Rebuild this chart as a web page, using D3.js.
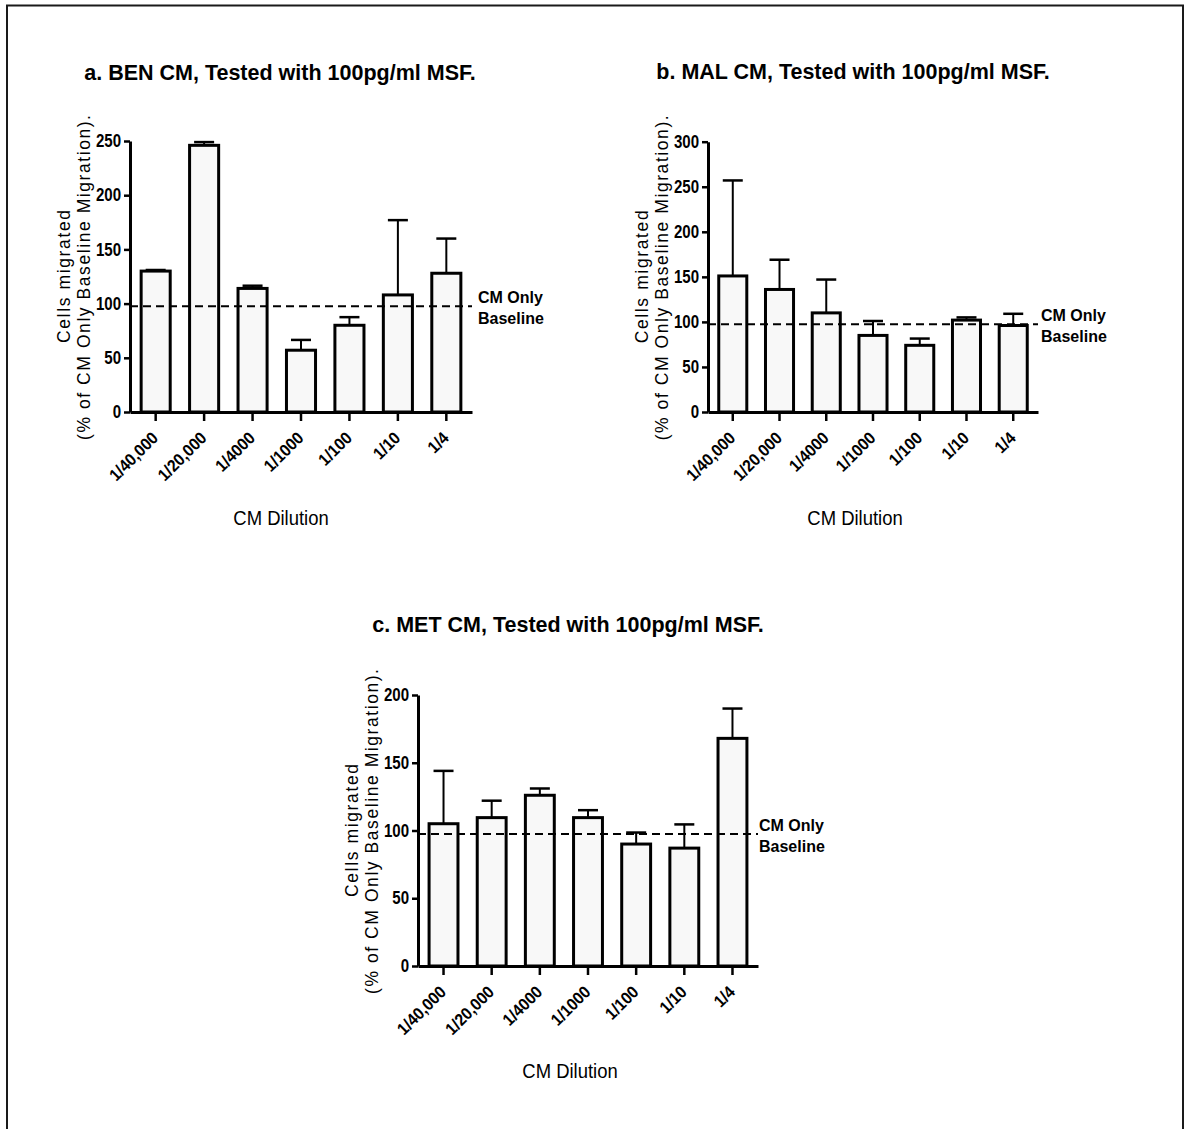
<!DOCTYPE html>
<html>
<head>
<meta charset="utf-8">
<script src="https://cdn.jsdelivr.net/npm/d3@7/dist/d3.min.js"></script>
<style>
  html, body { margin: 0; padding: 0; background: #ffffff; }
  svg { display: block; font-family: "Liberation Sans", Arial, Helvetica, sans-serif; }
</style>
</head>
<body>
<script>
// CM dilutions tested on the x axis
const categories = ["1/40,000", "1/20,000", "1/4000", "1/1000", "1/100", "1/10", "1/4"];

// BEN conditioned medium: mean % migration and upper error (SEM)
const benMeans = [130, 246, 114, 57, 80, 108, 128];
const benErrors = [1, 3, 2.5, 9.5, 7.5, 69, 32];

// MAL conditioned medium
const malMeans = [151, 136, 110, 85, 74, 102, 96];
const malErrors = [106, 33, 37, 16, 7.5, 3, 13];

// MET conditioned medium
const metMeans = [105, 109.5, 126, 109.5, 90, 87, 168];
const metErrors = [39, 12.5, 5, 5.5, 8.5, 17.5, 22];

// CM-only baseline migration level
const baselineValue = 97.5;

// y-axis tick values per panel
const benTicks = [0, 50, 100, 150, 200, 250];
const malTicks = [0, 50, 100, 150, 200, 250, 300];
const metTicks = [0, 50, 100, 150, 200];

const panelTitles = [
  "a. BEN CM, Tested with 100pg/ml MSF.",
  "b. MAL CM, Tested with 100pg/ml MSF.",
  "c. MET CM, Tested with 100pg/ml MSF."
];
const xAxisTitle = "CM Dilution";
const yTitleLine1 = "Cells migrated";
const yTitleLine2 = "(%  of CM Only Baseline Migration).";
const baselineLabel = ["CM Only", "Baseline"];

const W = 1188, H = 1129;
const svg = d3.select("body").append("svg").attr("width", W).attr("height", H);

// outer frame
svg.append("rect")
  .attr("x", 7).attr("y", 5.5).attr("width", 1176).attr("height", H + 20)
  .attr("fill", "none").attr("stroke", "#1a1a1a").attr("stroke-width", 2);

// narrow the glyphs of a text selection horizontally
function squish(sel, factor) {
  sel.each(function () {
    const len = this.getComputedTextLength();
    d3.select(this).attr("textLength", len * factor).attr("lengthAdjust", "spacingAndGlyphs");
  });
}

function drawPanel(p) {
  const g = svg.append("g");

  const x = d3.scaleBand()
    .domain(categories)
    .range([p.x0, p.x1])
    .paddingInner(0.4)
    .paddingOuter(0.23);

  const y = d3.scaleLinear()
    .domain([0, p.yMax])
    .range([p.yBottom, p.yTop]);

  const rows = categories.map((c, i) => ({ c, m: p.means[i], e: p.errors[i] }));

  // panel title
  g.append("text")
    .attr("x", p.titleX).attr("y", p.titleY)
    .attr("text-anchor", "middle")
    .attr("font-weight", "bold")
    .attr("font-size", 21.5)
    .attr("fill", "#000")
    .text(p.title);

  // bars
  g.selectAll("rect.bar").data(rows).join("rect")
    .attr("class", "bar")
    .attr("x", d => x(d.c))
    .attr("width", x.bandwidth())
    .attr("y", d => y(d.m))
    .attr("height", d => y(0) - y(d.m))
    .attr("fill", "#f8f8f8")
    .attr("stroke", "#000")
    .attr("stroke-width", 3);

  // upper error bars
  const cx = d => x(d.c) + x.bandwidth() / 2;
  g.selectAll("line.err").data(rows).join("line")
    .attr("class", "err")
    .attr("x1", cx).attr("x2", cx)
    .attr("y1", d => y(d.m)).attr("y2", d => y(d.m + d.e))
    .attr("stroke", "#000").attr("stroke-width", 2);
  g.selectAll("line.cap").data(rows).join("line")
    .attr("class", "cap")
    .attr("x1", d => cx(d) - 10).attr("x2", d => cx(d) + 10)
    .attr("y1", d => y(d.m + d.e)).attr("y2", d => y(d.m + d.e))
    .attr("stroke", "#000").attr("stroke-width", 2.5);

  // dashed CM-only baseline
  g.append("line")
    .attr("x1", p.x0).attr("x2", p.x1)
    .attr("y1", y(baselineValue)).attr("y2", y(baselineValue))
    .attr("stroke", "#000").attr("stroke-width", 2)
    .attr("stroke-dasharray", "8,5");

  g.selectAll("text.baseline").data(baselineLabel).join("text")
    .attr("class", "baseline")
    .attr("x", p.x1 + p.labelDx)
    .attr("y", (d, i) => y(baselineValue) - 3 + i * 21)
    .attr("font-size", 16)
    .attr("font-weight", "bold")
    .attr("fill", "#000")
    .text(d => d);

  // y axis
  const yAxisG = g.append("g")
    .attr("transform", `translate(${p.x0},0)`)
    .call(d3.axisLeft(y).tickValues(p.ticks).tickSize(6).tickSizeOuter(0).tickPadding(3));
  yAxisG.select(".domain").attr("stroke-width", 3);
  yAxisG.selectAll(".tick line").attr("stroke-width", 2.5);
  yAxisG.selectAll(".tick text")
    .attr("font-size", 17.5)
    .attr("font-weight", "bold")
    .attr("fill", "#000")
    .call(squish, 0.86);

  // x axis with rotated dilution labels
  const xAxisG = g.append("g")
    .attr("transform", `translate(0,${p.yBottom})`)
    .call(d3.axisBottom(x).tickSize(9).tickSizeOuter(0));
  xAxisG.select(".domain").attr("stroke-width", 3);
  xAxisG.selectAll(".tick line").attr("stroke-width", 2.5);
  xAxisG.selectAll(".tick text")
    .attr("x", 0).attr("y", 0).attr("dy", 0)
    .attr("text-anchor", "end")
    .attr("transform", "translate(3.6,27) rotate(-45)")
    .attr("font-size", 17)
    .attr("font-weight", "bold")
    .attr("fill", "#000")
    .call(squish, 0.92);

  // x axis title
  g.append("text")
    .attr("x", p.xTitleX).attr("y", p.xTitleY)
    .attr("text-anchor", "middle")
    .attr("font-size", 20.5)
    .attr("fill", "#000")
    .text(xAxisTitle)
    .call(squish, 0.9);

  // two-line y axis title
  const midY = (p.yTop + p.yBottom) / 2;
  g.append("text")
    .attr("transform", `translate(${p.x0 - 60},${midY}) rotate(-90)`)
    .attr("text-anchor", "middle")
    .attr("font-size", 17.5)
    .attr("textLength", 133)
    .attr("lengthAdjust", "spacing")
    .attr("fill", "#000")
    .text(yTitleLine1);
  g.append("text")
    .attr("transform", `translate(${p.x0 - 40},${midY + 1}) rotate(-90)`)
    .attr("text-anchor", "middle")
    .attr("font-size", 17.5)
    .attr("textLength", 325)
    .attr("lengthAdjust", "spacing")
    .attr("fill", "#000")
    .text(yTitleLine2);
}

drawPanel({
  title: panelTitles[0], means: benMeans, errors: benErrors, ticks: benTicks, yMax: 250,
  x0: 130, x1: 472, yTop: 141, yBottom: 412,
  titleX: 280, titleY: 80, xTitleX: 281, xTitleY: 525, labelDx: 6
});

drawPanel({
  title: panelTitles[1], means: malMeans, errors: malErrors, ticks: malTicks, yMax: 300,
  x0: 708, x1: 1038, yTop: 141.7, yBottom: 412,
  titleX: 853, titleY: 79, xTitleX: 855, xTitleY: 525, labelDx: 3
});

drawPanel({
  title: panelTitles[2], means: metMeans, errors: metErrors, ticks: metTicks, yMax: 200,
  x0: 418, x1: 758, yTop: 695, yBottom: 966,
  titleX: 568, titleY: 632, xTitleX: 570, xTitleY: 1078, labelDx: 1
});
</script>
</body>
</html>
